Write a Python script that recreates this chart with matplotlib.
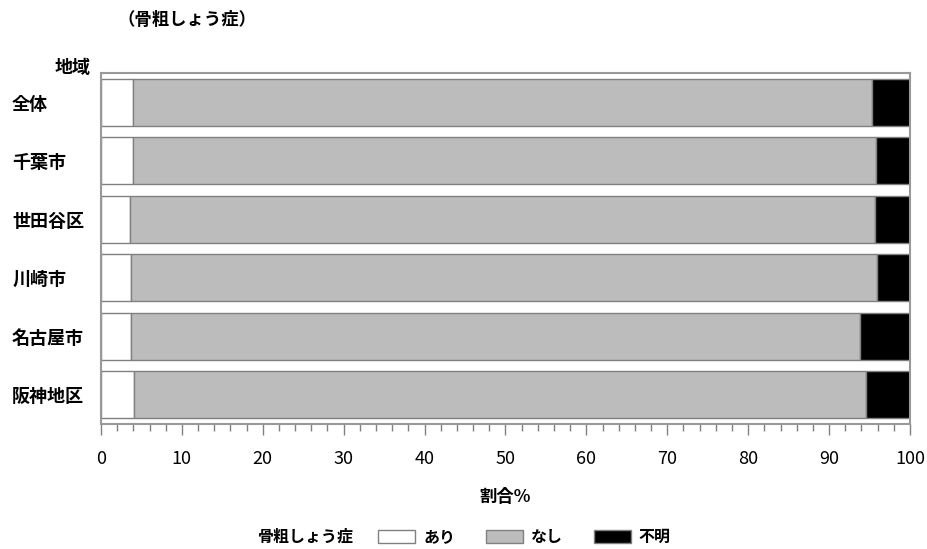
import matplotlib.pyplot as plt
import matplotlib.patches as mpatches
from matplotlib.ticker import MultipleLocator

plt.rcParams['font.family'] = ['Noto Sans CJK JP', 'DejaVu Sans']

# データ（割合%）
regions = ['全体', '千葉市', '世田谷区', '川崎市', '名古屋市', '阪神地区']
ari = [3.9, 3.9, 3.6, 3.7, 3.7, 4.1]
nashi = [91.4, 91.9, 92.1, 92.2, 90.1, 90.5]
fumei = [4.7, 4.2, 4.3, 4.1, 6.2, 5.4]
series_labels = ['あり', 'なし', '不明']
colors = ['white', '#bcbcbc', 'black']

fig = plt.figure(figsize=(9.28, 5.49), dpi=100)
ax = fig.add_axes([0.1088, 0.228, 0.8718, 0.639])

y = list(range(len(regions)))
left = [0] * len(regions)
for vals, c in zip([ari, nashi, fumei], colors):
    ax.barh(y, vals, left=left, height=0.8, color=c, edgecolor='#808080', linewidth=1)
    left = [l + v for l, v in zip(left, vals)]

ax.set_xlim(0, 100)
ax.set_ylim(5.5, -0.5)

for s in ax.spines.values():
    s.set_color('#999999')
    s.set_linewidth(1.5)

ax.xaxis.set_major_locator(MultipleLocator(10))
ax.xaxis.set_minor_locator(MultipleLocator(2))
ax.tick_params(axis='x', which='major', length=8, color='#808080', width=1,
               labelsize=13, pad=11)
ax.tick_params(axis='x', which='minor', length=5, color='#808080', width=1)

ax.set_yticks(y)
ax.set_yticklabels(regions, fontsize=13, fontweight='bold')
ax.tick_params(axis='y', length=0, pad=64)
for lab in ax.get_yticklabels():
    lab.set_horizontalalignment('left')

ax.set_xlabel('割合%', fontsize=12.5, fontweight='bold', labelpad=14)

fig.text(118 / 928, 1 - 20 / 549, '（骨粗しょう症）', fontsize=12.5, fontweight='bold',
         va='center', ha='left')
fig.text(55 / 928, 1 - 67 / 549, '地域', fontsize=13, fontweight='bold',
         va='center', ha='left')

# 凡例
fig.text(258 / 928, 1 - 537 / 549, '骨粗しょう症', fontsize=11.5, fontweight='bold',
         va='center', ha='left')
handles = [mpatches.Patch(facecolor=c, edgecolor='#808080', label=l)
           for c, l in zip(colors, series_labels)]
leg = fig.legend(handles=handles, loc='center left', ncol=3,
                 bbox_to_anchor=(364 / 928, 1 - 537 / 549), frameon=False,
                 prop={'size': 11.5, 'weight': 'bold'}, handlelength=2.3,
                 handleheight=0.85, handletextpad=0.5, columnspacing=1.95)

fig.savefig('out.png', dpi=100)
